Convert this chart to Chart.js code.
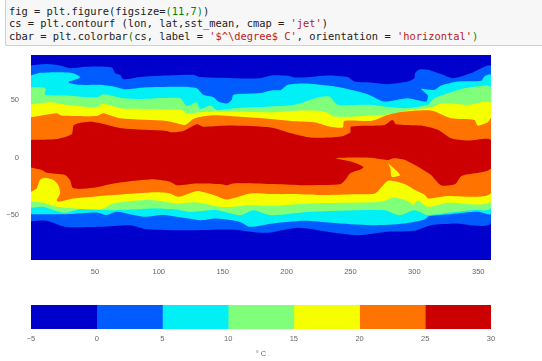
<!DOCTYPE html>
<html>
<head>
    <title>SST mean</title>
    <script src="https://cdn.jsdelivr.net/npm/chart.js@4"></script>
    <style>
        body { margin: 0; background: #fff; width: 542px; height: 361px; overflow: hidden; position: relative; }
        #cell {
            position: absolute; left: 5px; top: -1px; width: 545px; height: 45px;
            border: 1px solid #cfcfcf; background: #f7f7f7; border-radius: 2px;
        }
        #cell pre {
            margin: 0; position: absolute; left: 3px; top: 5px;
            font: 10.4px/12.3px "DejaVu Sans Mono", monospace; color: #222;
        }
        .n { color: #080; }
        .s { color: #ba2121; }
        #mapBox { position: absolute; left: 0; top: 0; width: 542px; height: 290px; }
        #barBox { position: absolute; left: 0; top: 290px; width: 542px; height: 71px; }
    </style>
</head>
<body>
    <div id="cell"><pre>fig = plt.figure(figsize=<span class="n">(11,7)</span>)
cs = plt.contourf (lon, lat,sst_mean, cmap = <span class="s">'jet'</span>)
cbar = plt.colorbar<span class="n">(</span>cs, label = <span class="s">'$^\degree$ C'</span>, orientation = <span class="s">'horizontal'</span><span class="n">)</span></pre></div>
    <div id="mapBox"><canvas id="map"></canvas></div>
    <div id="barBox"><canvas id="bar"></canvas></div>
    <script>
        // contour levels and band colours
        var levels = [-5, 0, 5, 10, 15, 20, 25, 30];
        var colors = ['#0000cc', '#005cff', '#00f0f5', '#80ff7b', '#f5ff00', '#ff7300', '#cc0000'];
        var xTicks = [50, 100, 150, 200, 250, 300, 350];
        var yTicks = [-50, 0, 50];

        // contour lines, [lon, lat], west to east
        var north0 = [[0,79.9],[12.3,81.1],[22.7,79.9],[30.5,77.6],[43.6,78.8],[63.2,78.2],[65.8,73.2],[69.7,71.8],[72.3,68],[85.3,70],[106.2,71.2],[127.1,71.8],[132.3,69.8],[158.4,68.9],[179.3,68.9],[187.9,71.2],[200.9,70.9],[206.1,69.5],[219.1,70],[232.2,71.2],[247.8,69.8],[253,66],[266.1,65.1],[279.2,63.7],[294.8,66],[300,68.9],[300.6,73.2],[303.9,76.4],[310.5,76.2],[320.9,72.4],[330,68.9],[344.4,73.2],[360,79]];
        var north5 = [[0,71.2],[7,73.5],[22.7,74.1],[33.1,73.2],[38.4,69.5],[29.2,65.4],[38.4,63.1],[54,63.1],[64.5,61.7],[73.6,59.3],[88,60.8],[116.7,61.4],[129.7,60.2],[134.9,54.4],[142.8,52.4],[146.7,48.6],[153.2,46.9],[157.1,50.1],[158.4,54.4],[179.3,55.9],[187.9,58.2],[195.6,58.7],[200.9,63.1],[213.9,64.3],[232.2,62.5],[245.2,60.2],[263.5,55],[276.5,48.6],[294.8,51.5],[309.2,48.6],[310.5,53.8],[305.2,59.6],[315.7,58.7],[320.9,62.5],[334,66],[352.2,66.6],[354.8,70.4],[360,71.8]];
        var north10 = [[0,61.1],[9.7,60.8],[11.5,59.6],[11,54.4],[27.9,53.8],[51.4,52.1],[56.6,55],[72.3,51.5],[88,50.9],[116.7,51.5],[121.9,44.8],[129.7,48],[132.3,42.2],[140.7,45.1],[145.4,41.3],[158.4,42.8],[187.9,44.2],[206.1,45.7],[224.3,52.1],[233.5,52.9],[240,45.7],[263.5,45.7],[276.5,44.2],[292.2,42.8],[310.5,45.7],[315.7,51.5],[334,58.7],[344.4,61.1],[360,60.8]];
        var north15 = [[0,46.3],[14.9,48],[25.3,46.3],[51.4,43.4],[56.6,46.6],[69.7,42.8],[88,42.2],[118,41.3],[121.9,37.9],[132.3,39.3],[145.4,39.9],[187.9,39.3],[213.9,40.8],[229.6,39.9],[237.4,35.6],[260.9,36.1],[284.4,37.9],[292.2,40.5],[313.1,43.4],[320.9,47.2],[341.8,45.7],[360,47.2]];
        var north20 = [[0,35],[20.1,38.5],[24,36.4],[51.4,36.1],[56.6,38.5],[69.7,34.1],[106.2,31.8],[114.1,29.8],[120.6,28.3],[127.1,33.5],[134.9,35.8],[145.4,36.7],[187.9,33.5],[203.5,31.8],[221.7,30.6],[233.5,26.9],[243.9,26],[245.2,31.8],[266.1,31.8],[279.2,37],[292.2,39.9],[313.1,40.8],[328.7,34.1],[347,32.6],[349.6,27.7],[357.4,30.6],[360,34.1]];
        var north25 = [[0,15.3],[20.1,16.1],[31.8,20.2],[33.7,28.3],[48.8,30.9],[71,25.4],[106.2,23.1],[110.1,21.9],[119.3,23.1],[129.7,28.9],[134.9,26.8],[155.8,27.7],[187.9,26],[203.5,21],[219.1,17.3],[242.6,18.2],[249.9,21.9],[250.4,26.8],[276.5,28.3],[283,32.6],[285.7,28.9],[305.2,27.7],[318.3,24],[328.7,16.7],[341.8,14.7],[360,15.3]];
        var south25 = [[0,-8.7],[8.4,-10.9],[12.3,-13.2],[26.6,-15.2],[30.5,-19.6],[33.1,-26.8],[48.8,-26.3],[64.5,-22.5],[93.2,-19],[108.8,-21],[114.1,-24],[129.7,-22.5],[148,-23.1],[153.2,-24],[158.4,-22.5],[187.9,-23.1],[211.3,-24],[241.8,-23.3],[245.8,-19.6],[249.7,-13.8],[258.8,-10],[260.1,-8],[251,-3.6],[238.7,-0.7],[256.2,-0.1],[269.2,-0.7],[279.7,-2.2],[283.6,-0.7],[292.7,-2.2],[305.2,-9.5],[313.1,-15.2],[320.9,-24],[332,-23],[337,-16],[360,-9.5]];
        var south20 = [[0,-29.7],[4.4,-26.9],[7,-19.6],[11,-17.6],[17.5,-19.6],[21.4,-24],[22.7,-31.2],[20.1,-37],[21.4,-38.5],[33.1,-35.6],[48.8,-34.1],[64.5,-32.6],[93.2,-30.3],[108.8,-31.2],[115.4,-34.1],[129.7,-29.2],[142.8,-32.6],[153.2,-36.4],[171.5,-31.2],[187.9,-31.8],[213.9,-32.1],[230.1,-32.6],[253.6,-32],[269.2,-31.2],[274.5,-25.4],[279.7,-20.1],[292.7,-23.3],[300.6,-28.3],[308.4,-32.6],[310.5,-35.5],[316.2,-34.9],[326.1,-33.5],[360,-30.6]];
        var south15 = [[0,-38.5],[9.7,-39.3],[20.1,-42.8],[54,-45.1],[64.5,-39.9],[93.2,-37],[114,-39.9],[129.7,-39],[148,-42.8],[158.4,-42.8],[168.9,-41.4],[187.9,-41.9],[219.1,-39.9],[273.9,-38.5],[284.4,-34.7],[296.1,-38.5],[298.7,-41.4],[302.6,-37.6],[310.5,-42.8],[326.1,-39.3],[360,-37.6]];
        var south10 = [[0,-43.7],[9.7,-42.8],[25.3,-48],[41,-44.2],[59.2,-45.7],[80,-45.1],[93.2,-44.2],[114,-45.1],[124.5,-47.2],[145.4,-45.7],[163.6,-50.1],[174,-45.7],[187.9,-50.1],[219.1,-47.2],[276.5,-45.7],[288.3,-50.1],[300,-45.7],[310.5,-50],[326,-48],[344.4,-45.7],[360,-43.7]];
        var south5 = [[0,-49.2],[27.9,-49.2],[51.4,-47.7],[59,-50],[67,-47.2],[88,-51.5],[103.6,-50],[132.3,-54.4],[145.4,-53],[163.6,-55.9],[171.5,-60.2],[187.9,-57.5],[213.9,-55],[234.8,-56.7],[266.1,-58.8],[292.2,-57.3],[307.9,-53.8],[311.8,-50.9],[328.7,-49.2],[349.6,-47.2],[360,-48.6]];
        var south0 = [[0,-55.3],[12.3,-55],[26.6,-60.2],[54,-60.2],[77.5,-58.8],[90.6,-62.2],[121.9,-63.1],[158.4,-62.5],[176.7,-65.1],[187.9,-65.1],[208.7,-61.1],[232.2,-64.5],[255.7,-67.5],[279.2,-64.5],[300,-63.7],[313.1,-58.8],[331.4,-57.3],[360,-56.4]];
        // small closed patch of the 15-20 band inside the 20-25 band
        var patch20 = [[279.5,-5],[281,-6.5],[288.8,-15.2],[282.3,-16.7],[281.5,-10]];
        // whole field, coldest band
        var field = [[0,90],[360,90],[360,-90],[0,-90]];

        var bands = [
            [field, colors[0]],
            [north0.concat(south0.slice().reverse()), colors[1]],
            [north5.concat(south5.slice().reverse()), colors[2]],
            [north10.concat(south10.slice().reverse()), colors[3]],
            [north15.concat(south15.slice().reverse()), colors[4]],
            [north20.concat(south20.slice().reverse()), colors[5]],
            [north25.concat(south25.slice().reverse()), colors[6]],
            [patch20, colors[4]]
        ];

        var tickFont = { family: 'Liberation Sans', size: 7.5 };
        var tickColor = '#666';

        new Chart(document.getElementById('map'), {
            type: 'scatter',
            data: {
                datasets: bands.map(function (b, i) {
                    return {
                        data: b[0].map(function (p) { return { x: p[0], y: p[1] }; }),
                        showLine: true,
                        fill: 'shape',
                        tension: i == 0 ? 0 : 0.25,
                        backgroundColor: b[1],
                        borderWidth: 0,
                        pointRadius: 0,
                        order: bands.length - i
                    };
                })
            },
            options: {
                responsive: true,
                maintainAspectRatio: false,
                animation: false,
                layout: { padding: { top: 55, right: 51, left: 0, bottom: 0 } },
                plugins: { legend: { display: false }, tooltip: { enabled: false } },
                scales: {
                    x: {
                        type: 'linear', min: 0, max: 360,
                        afterBuildTicks: function (s) { s.ticks = xTicks.map(function (v) { return { value: v }; }); },
                        afterFit: function (s) { s.height = 30; },
                        grid: { display: false, drawTicks: false },
                        border: { display: false },
                        ticks: { font: tickFont, color: tickColor, padding: 7, maxRotation: 0 }
                    },
                    y: {
                        type: 'linear', min: -89, max: 89,
                        afterBuildTicks: function (s) { s.ticks = yTicks.map(function (v) { return { value: v }; }); },
                        afterFit: function (s) { s.width = 31; },
                        grid: { display: false },
                        border: { display: false },
                        ticks: {
                            font: tickFont, color: tickColor, padding: 4,
                            callback: function (v) { return String(v).replace('-', '\u2212'); }
                        }
                    }
                }
            }
        });

        new Chart(document.getElementById('bar'), {
            type: 'bar',
            data: {
                labels: ['sst'],
                datasets: colors.map(function (c, i) {
                    return {
                        data: [[levels[i], levels[i + 1]]],
                        backgroundColor: c,
                        borderWidth: 0,
                        barPercentage: 1,
                        categoryPercentage: 1,
                        grouped: false
                    };
                })
            },
            options: {
                indexAxis: 'y',
                responsive: true,
                maintainAspectRatio: false,
                animation: false,
                layout: { padding: { top: 15, right: 51, left: 31, bottom: 3 } },
                plugins: { legend: { display: false }, tooltip: { enabled: false } },
                scales: {
                    y: { display: false },
                    x: {
                        min: levels[0], max: levels[levels.length - 1],
                        afterBuildTicks: function (s) { s.ticks = levels.map(function (v) { return { value: v }; }); },
                        afterFit: function (s) { s.height = 29; },
                        grid: { display: false, drawTicks: false },
                        border: { display: false },
                        title: { display: true, text: '\u00b0 C', font: tickFont, color: tickColor, padding: { top: 3, bottom: 0 } },
                        ticks: {
                            font: tickFont, color: tickColor, padding: 5, maxRotation: 0,
                            callback: function (v) { return String(v).replace('-', '\u2212'); }
                        }
                    }
                }
            }
        });
    </script>
</body>
</html>
